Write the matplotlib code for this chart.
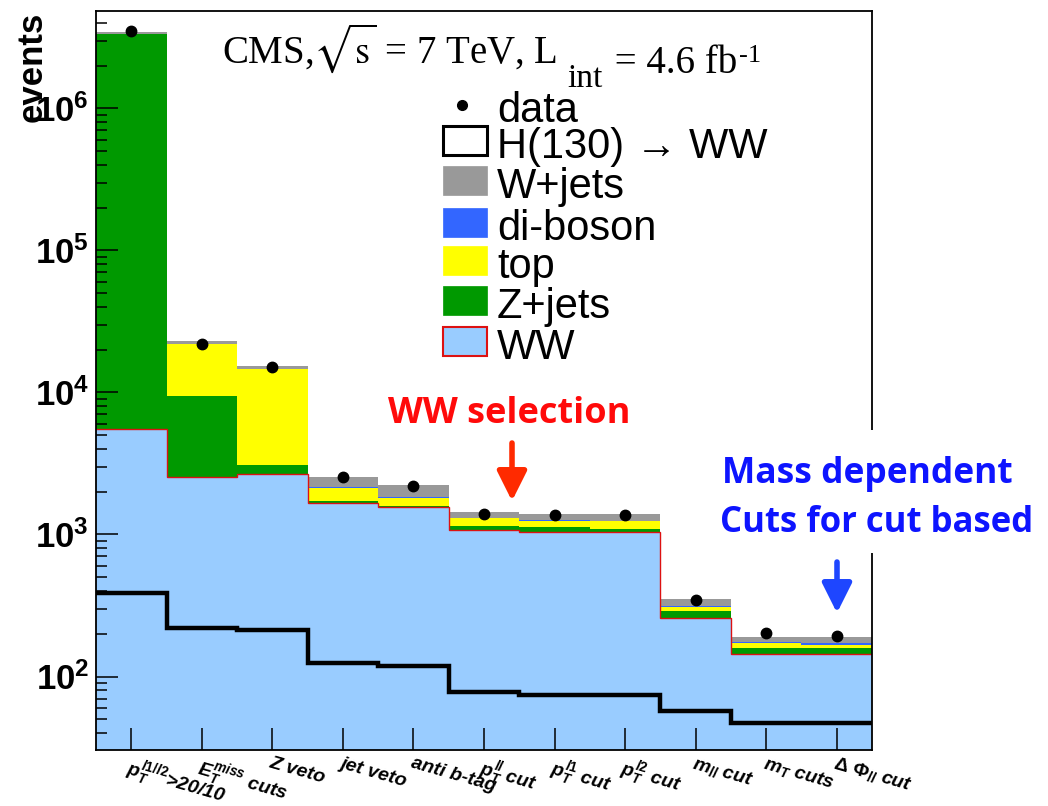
import numpy as np
import matplotlib
matplotlib.use('Agg')
import matplotlib.pyplot as plt
from matplotlib.patches import Rectangle
from matplotlib.lines import Line2D

W, H = 1048, 806

# cut flow categories
cuts = [r'$p_T^{l1/l2}$>20/10', r'$E_T^{miss}$ cuts', 'Z veto', 'jet veto', 'anti b-tag',
        r'$p_T^{ll}$ cut', r'$p_T^{l1}$ cut', r'$p_T^{l2}$ cut', r'$m_{ll}$ cut',
        r'$m_T$ cuts', r'$\Delta$ $\Phi_{ll}$ cut']

# background components (stacked, bottom to top)
ww = [5570, 2520, 2650, 1653, 1550, 1067, 1040, 1040, 260, 143, 143]
zjets = [3.33e6, 6860, 410, 81, 30, 71, 80, 61, 27, 17, 17]
top = [8000, 12400, 11440, 406, 240, 159, 130, 135, 24, 11, 8]
diboson = [3000, 100, 100, 10, 20, 15, 15, 15, 5, 3, 3]
wjets = [110000, 950, 640, 400, 373, 117, 118, 132, 38, 17, 20]

data = [3.5e6, 22000, 15200, 2530, 2200, 1400, 1370, 1370, 348, 204, 193]
higgs = [390, 218, 211, 125, 119, 78, 74, 74, 57, 47, 47]

legend_labels = ['data', 'H(130) \u2192 WW', 'W+jets', 'di-boson', 'top', 'Z+jets', 'WW']

c_ww = '#99CCFF'
c_z = '#009900'
c_top = '#FFFF00'
c_vv = '#3366FF'
c_wj = '#999999'
c_red = '#DD1111'

plt.rcParams['mathtext.fontset'] = 'custom'
plt.rcParams['mathtext.rm'] = 'Liberation Sans:bold'
plt.rcParams['mathtext.it'] = 'Liberation Sans:italic:bold'
plt.rcParams['mathtext.bf'] = 'Liberation Sans:bold'
plt.rcParams['font.family'] = ['Liberation Sans', 'DejaVu Sans']


def fx(x):
    return x / W


def fy(y):
    return 1 - y / H


fig = plt.figure(figsize=(W / 100, H / 100), dpi=100)
ax = fig.add_axes([fx(96), fy(750), (872 - 96) / W, (750 - 11) / H])

n = len(cuts)
edges = np.arange(n + 1)
centers = edges[:-1] + 0.5

c1 = np.array(ww, dtype=float)
c2 = c1 + np.array(zjets)
c3 = c2 + np.array(top)
c4 = c3 + np.array(diboson)
c5 = c4 + np.array(wjets)

for vals, col in [(c5, c_wj), (c4, c_vv), (c3, c_top), (c2, c_z), (c1, c_ww)]:
    ax.stairs(vals, edges, baseline=1, fill=True, color=col, lw=0)
ax.stairs(c1, edges, baseline=None, color=c_red, lw=1.0)
ax.stairs(higgs, edges, baseline=None, color='black', lw=3.2)
ax.plot(centers, data, 'o', color='black', ms=7.5, zorder=5)

ax.set_yscale('log')
ax.set_xlim(0, n)
ax.set_ylim(30.4, 4.84e6)
ax.set_yticks([1e2, 1e3, 1e4, 1e5, 1e6], [r'$10^{%d}$' % k for k in range(2, 7)])
ax.tick_params(axis='y', which='major', direction='in', length=16, width=1.1,
               labelsize=25, pad=5, right=False)
ax.tick_params(axis='y', which='minor', direction='in', length=8, width=1.1, right=False)
ax.set_xticks(centers)
ax.set_xticklabels(cuts, rotation=-16, ha='left', va='top', rotation_mode='anchor',
                   fontsize=14, fontweight='bold', fontstyle='italic')
ax.tick_params(axis='x', direction='in', length=16, width=1.1, pad=3, top=False)
for s in ax.spines.values():
    s.set_linewidth(1.3)

# y label
fig.text(fx(32), fy(12), 'events', rotation=90, ha='center', va='top',
         fontsize=25, fontweight='bold')

# header
t1 = fig.text(fx(222), fy(63), r'CMS,$\sqrt{\mathrm{s}}$ = 7 TeV, L', family='Liberation Serif',
              fontsize=28, va='baseline', math_fontfamily='stix')
t2 = ax.annotate('int', xy=(1, 0), xycoords=t1, xytext=(10, -12), textcoords='offset pixels',
                 family='Liberation Serif', fontsize=24, va='baseline', ha='left',
                 annotation_clip=False)
t3 = ax.annotate(' = 4.6 fb', xy=(1, 0), xycoords=t2, xytext=(3, 12),
                 textcoords='offset pixels', family='Liberation Serif', fontsize=28,
                 va='bottom', ha='left', annotation_clip=False)
ax.annotate('-1', xy=(1, 1), xycoords=t3, xytext=(1, 0), textcoords='offset pixels',
            family='Liberation Serif', fontsize=19, va='top', ha='left',
            annotation_clip=False)

# legend drawn by hand
row_base = [122, 158, 198, 240, 278, 318, 359]
boxes = [None, ('white', 'black', 2.2), (c_wj, c_wj, 0.5), (c_vv, c_vv, 0.5),
         (c_top, c_top, 0.5), (c_z, c_z, 0.5), (c_ww, c_red, 1.5)]
for lab, yb, box in zip(legend_labels, row_base, boxes):
    fig.text(fx(497), fy(yb), lab, fontsize=30, va='baseline', ha='left')
    if box is None:
        fig.add_artist(Line2D([fx(462)], [fy(yb - 17)], marker='o', color='black', ms=7))
    else:
        fc, ec, lw = box
        fig.add_artist(Rectangle((fx(443), fy(yb - 3)), 44 / W, 29 / H, facecolor=fc,
                                 edgecolor=ec, lw=lw, transform=fig.transFigure))

# annotations
fig.text(fx(388), fy(423), 'WW selection', color='#FF0A0A', fontsize=26,
         fontweight='bold', family='Open Sans', va='baseline')
ax.annotate('', xy=(512, H - 501), xytext=(512, H - 443), xycoords='figure pixels',
            arrowprops=dict(arrowstyle='-|>,head_length=0.9,head_width=0.45',
                            color='#FF2A00', lw=4, mutation_scale=20, shrinkA=0, shrinkB=0),
            annotation_clip=False)

fig.add_artist(Rectangle((fx(700), fy(553)), (W - 700) / W, 123 / H, facecolor='white',
                         edgecolor='none', transform=fig.transFigure, zorder=3))
fig.text(fx(722), fy(483), 'Mass dependent', color='#0D14FF', fontsize=25.5,
         fontweight='bold', family='Open Sans', va='baseline', zorder=4)
fig.text(fx(720), fy(532), 'Cuts for cut based', color='#0D14FF', fontsize=25,
         fontweight='bold', family='Open Sans', va='baseline', zorder=4)
ax.annotate('', xy=(837, H - 613), xytext=(837, H - 562), xycoords='figure pixels',
            arrowprops=dict(arrowstyle='-|>,head_length=0.9,head_width=0.45',
                            color='#1E46FF', lw=4, mutation_scale=20, shrinkA=0, shrinkB=0),
            annotation_clip=False)

fig.savefig('out.png', dpi=100)
